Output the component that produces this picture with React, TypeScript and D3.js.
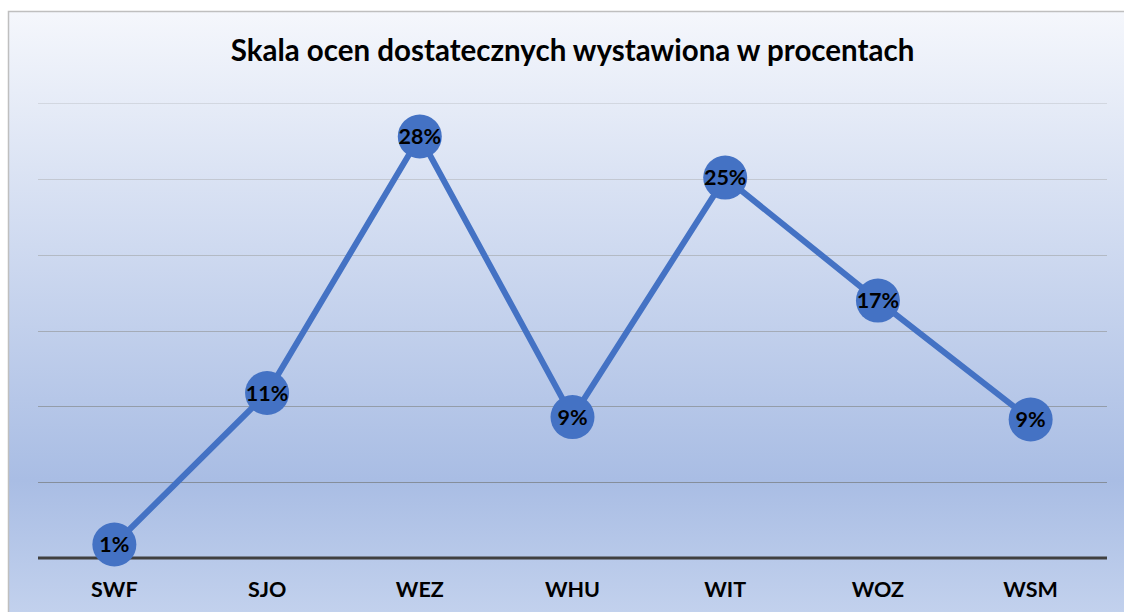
import React, { useEffect, useRef } from 'react'
import * as d3 from 'd3'

const title = 'Skala ocen dostatecznych wystawiona w procentach'
const categories = ['SWF', 'SJO', 'WEZ', 'WHU', 'WIT', 'WOZ', 'WSM']
const values = [0.89, 10.88, 27.79, 9.29, 25.08, 16.97, 9.13]
const gridTicks = [5, 10, 15, 20, 25, 30]

const W = 1124
const H = 612

export default function App() {
  const ref = useRef<SVGSVGElement>(null)

  useEffect(() => {
    const svg = d3.select(ref.current)
    svg.selectAll('*').remove()

    const left = 38
    const right = 1107
    const top = 103
    const bottom = 558
    const font = 'Lato, "Open Sans", sans-serif'

    const defs = svg.append('defs')
    const grad = defs
      .append('linearGradient')
      .attr('id', 'bg')
      .attr('gradientUnits', 'userSpaceOnUse')
      .attr('x1', 0)
      .attr('y1', 11)
      .attr('x2', 0)
      .attr('y2', H)
    grad.append('stop').attr('offset', '0%').attr('stop-color', '#f5f7fc')
    grad.append('stop').attr('offset', '78%').attr('stop-color', '#a9bde4')
    grad.append('stop').attr('offset', '100%').attr('stop-color', '#c2d1ed')

    svg
      .append('rect')
      .attr('x', 8.5)
      .attr('y', 11.5)
      .attr('width', W)
      .attr('height', H)
      .attr('fill', 'url(#bg)')
      .attr('stroke', '#bfbfbf')
      .attr('stroke-width', 1.5)

    const x = d3.scalePoint<string>().domain(categories).range([left, right]).padding(0.5)
    const y = d3.scaleLinear().domain([0, 30]).range([bottom, top])

    const gridColor = d3.scaleLinear<string>().domain([30, 5]).range(['#d2d7e0', '#858e9b'])

    svg
      .append('g')
      .selectAll('line')
      .data(gridTicks)
      .join('line')
      .attr('x1', left)
      .attr('x2', right)
      .attr('y1', (d) => Math.round(y(d)) + 0.5)
      .attr('y2', (d) => Math.round(y(d)) + 0.5)
      .attr('stroke', (d) => gridColor(d))
      .attr('stroke-width', 1)

    svg
      .append('line')
      .attr('x1', left)
      .attr('x2', right)
      .attr('y1', y(0))
      .attr('y2', y(0))
      .attr('stroke', '#404040')
      .attr('stroke-width', 3)

    svg
      .append('text')
      .attr('x', (left + right) / 2)
      .attr('y', 61)
      .attr('text-anchor', 'middle')
      .attr('font-family', font)
      .attr('font-weight', 'bold')
      .attr('font-size', 29.5)
      .attr('fill', '#000')
      .text(title)

    svg
      .append('g')
      .selectAll('text')
      .data(categories)
      .join('text')
      .attr('x', (d) => x(d)!)
      .attr('y', 597)
      .attr('text-anchor', 'middle')
      .attr('font-family', font)
      .attr('font-weight', 'bold')
      .attr('font-size', 21.5)
      .attr('fill', '#000')
      .text((d) => d)

    const line = d3
      .line<number>()
      .x((_, i) => x(categories[i])!)
      .y((d) => y(d))

    svg
      .append('path')
      .datum(values)
      .attr('d', line)
      .attr('fill', 'none')
      .attr('stroke', '#4472c4')
      .attr('stroke-width', 6)
      .attr('stroke-linejoin', 'round')

    const pts = svg
      .append('g')
      .selectAll('g')
      .data(values)
      .join('g')
      .attr('transform', (d, i) => `translate(${x(categories[i])},${y(d)})`)

    pts.append('circle').attr('r', 22).attr('fill', '#4472c4')

    pts
      .append('text')
      .attr('text-anchor', 'middle')
      .attr('dy', '0.36em')
      .attr('font-family', font)
      .attr('font-weight', 'bold')
      .attr('font-size', 21.5)
      .attr('fill', '#000')
      .text((d) => `${Math.round(d)}%`)
  }, [])

  return (
    <svg
      ref={ref}
      width={W}
      height={H}
      style={{ position: 'absolute', left: 0, top: 0, display: 'block' }}
    />
  )
}
